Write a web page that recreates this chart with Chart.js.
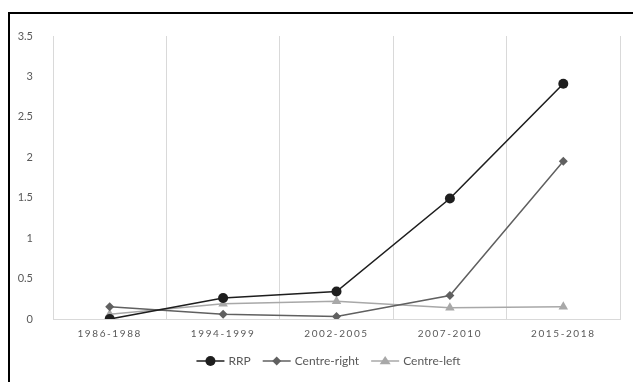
<!DOCTYPE html>
<html>
<head>
<meta charset="utf-8">
<script src="https://cdn.jsdelivr.net/npm/chart.js@4"></script>
<style>
  html, body { margin: 0; padding: 0; background: #fff; }
  #wrap { position: relative; width: 633px; height: 382px; overflow: hidden; }
  #frame { position: absolute; left: 8px; top: 12px; width: 700px; height: 500px;
           border-left: 2px solid #000; border-top: 2px solid #000; }
  #chart { position: absolute; left: 0; top: 0; }
</style>
</head>
<body>
<div id="wrap">
  <div id="frame"></div>
  <canvas id="chart" width="633" height="382"></canvas>
</div>
<script>
// ── datos ──
const periods = ['1986-1988', '1994-1999', '2002-2005', '2007-2010', '2015-2018'];
const rrp = [0.00, 0.26, 0.34, 1.49, 2.91];
const centreRight = [0.15, 0.06, 0.03, 0.29, 1.95];
const centreLeft = [0.06, 0.19, 0.22, 0.14, 0.15];
const yTicks = [0, 0.5, 1, 1.5, 2, 2.5, 3, 3.5];

const FONT = 'Lato, "Open Sans", sans-serif';
const GREY = '#595959';

// espaciado de letras en las etiquetas del eje x
const spacedLabels = {
    id: 'spacedLabels',
    beforeDraw(chart) {
        const sc = chart.scales.x;
        if (sc._spaced) return;
        const orig = sc.drawLabels;
        sc.drawLabels = function (area) {
            const ctx = this.ctx;
            ctx.save();
            ctx.letterSpacing = '1.6px';
            orig.call(this, area);
            ctx.restore();
        };
        sc._spaced = true;
    }
};

// leyenda tipo Excel: línea con marcador
const lineLegend = {
    id: 'lineLegend',
    afterDraw(chart) {
        const ctx = chart.ctx;
        ctx.save();
        ctx.font = '12px ' + FONT;
        ctx.textBaseline = 'middle';
        const lineW = 28, gapText = 4, gapItem = 12;
        const items = chart.data.datasets.map(ds => ({ ds, w: ctx.measureText(ds.label).width }));
        const total = items.reduce((s, it) => s + lineW + gapText + it.w, 0) + gapItem * (items.length - 1);
        const a = chart.chartArea;
        let x = (a.left + a.right) / 2 - 8 - total / 2;
        const y = 361;
        items.forEach(it => {
            const ds = it.ds;
            ctx.strokeStyle = ds.borderColor;
            ctx.lineWidth = 1.5;
            ctx.beginPath();
            ctx.moveTo(x, y);
            ctx.lineTo(x + lineW, y);
            ctx.stroke();
            ctx.fillStyle = ds.pointBackgroundColor;
            ctx.beginPath();
            drawMarker(ctx, ds.pointStyle, ds.pointRadius, x + lineW / 2, y);
            ctx.fill();
            ctx.fillStyle = GREY;
            ctx.fillText(ds.label, x + lineW + gapText, y + 0.5);
            x += lineW + gapText + it.w + gapItem;
        });
        ctx.restore();
    }
};

function drawMarker(ctx, style, r, x, y) {
    if (style === 'circle') {
        ctx.arc(x, y, r, 0, Math.PI * 2);
    } else if (style === 'rectRot') {
        ctx.moveTo(x, y - r); ctx.lineTo(x + r, y); ctx.lineTo(x, y + r); ctx.lineTo(x - r, y); ctx.closePath();
    } else {
        const h = r * 1.5;
        ctx.moveTo(x, y - h * 0.6); ctx.lineTo(x + r, y + h * 0.4); ctx.lineTo(x - r, y + h * 0.4); ctx.closePath();
    }
}

new Chart(document.getElementById('chart'), {
    type: 'line',
    data: {
        labels: periods,
        datasets: [
            {
                label: 'RRP', data: rrp,
                borderColor: '#1e1e1e', borderWidth: 1.6,
                pointStyle: 'circle', pointRadius: 5,
                pointBackgroundColor: '#1e1e1e', pointBorderWidth: 0
            },
            {
                label: 'Centre-right', data: centreRight,
                borderColor: '#606060', borderWidth: 1.5,
                pointStyle: 'rectRot', pointRadius: 4.5,
                pointBackgroundColor: '#606060', pointBorderWidth: 0
            },
            {
                label: 'Centre-left', data: centreLeft,
                borderColor: '#a8a8a8', borderWidth: 1.5,
                pointStyle: 'triangle', pointRadius: 5.5,
                pointBackgroundColor: '#a8a8a8', pointBorderWidth: 0
            }
        ]
    },
    options: {
        responsive: false,
        animation: false,
        layout: { padding: { left: 0, right: 13, top: 36, bottom: 33 } },
        plugins: {
            legend: { display: false },
            tooltip: { enabled: false }
        },
        scales: {
            x: {
                offset: true,
                grid: { offset: true, color: '#d9d9d9', drawTicks: false },
                border: { color: '#d9d9d9' },
                ticks: { color: GREY, font: { family: FONT, size: 10 }, padding: 9, maxRotation: 0 }
            },
            y: {
                min: 0, max: 3.5,
                afterBuildTicks: sc => { sc.ticks = yTicks.map(v => ({ value: v })); },
                afterFit: sc => { sc.width = 53; },
                grid: { display: false },
                border: { display: false },
                ticks: { color: GREY, font: { family: FONT, size: 11 }, padding: 12, callback: v => String(v) }
            }
        }
    },
    plugins: [spacedLabels, lineLegend]
});
</script>
</body>
</html>
